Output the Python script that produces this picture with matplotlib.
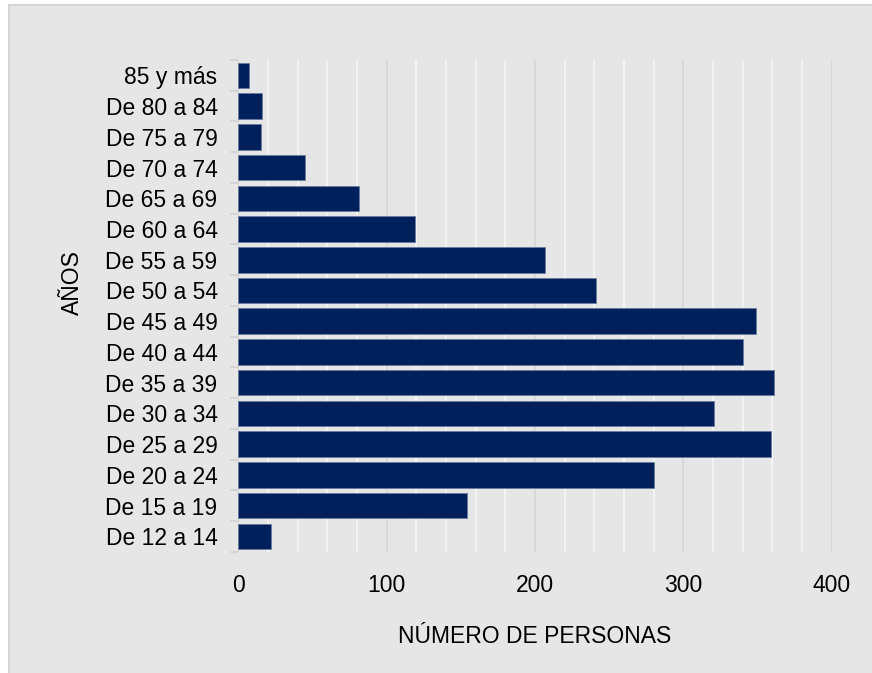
import matplotlib
matplotlib.use("Agg")
from matplotlib import pyplot as plt
from matplotlib.patches import Rectangle
from matplotlib.ticker import MultipleLocator, FixedLocator

plt.rcParams['font.family'] = ['Liberation Sans', 'DejaVu Sans']

# age groups, bottom to top
grupos = ["De 12 a 14", "De 15 a 19", "De 20 a 24", "De 25 a 29", "De 30 a 34",
          "De 35 a 39", "De 40 a 44", "De 45 a 49", "De 50 a 54", "De 55 a 59",
          "De 60 a 64", "De 65 a 69", "De 70 a 74", "De 75 a 79", "De 80 a 84",
          "85 y más"]
personas = [22, 154, 280, 359, 321, 361, 340, 349, 241, 207,
            119, 81, 45, 15, 16, 7]

W, H = 872, 673
fig = plt.figure(figsize=(W / 100, H / 100), dpi=100)
fig.patch.set_facecolor("white")

# grey chart area with thin border (white margin only left / top)
bg = Rectangle((9 / W, -0.01), 1.01, 1.01 - 5 / H, transform=fig.transFigure,
               facecolor="#e6e6e6", edgecolor="#d6d6d6", linewidth=1.5, zorder=-10)
fig.patches.append(bg)

left, right = 238.4 / W, 831.6 / W
bottom, top = 1 - 551.7 / H, 1 - 60 / H
ax = fig.add_axes([left, bottom, right - left, top - bottom])
ax.set_facecolor("none")

pos = list(range(len(grupos)))
ax.barh(pos, personas, height=0.83, color="#00205b", edgecolor="#6b7ba0",
        linewidth=0.6, zorder=3)

ax.set_xlim(0, 400)
ax.set_ylim(-0.5, len(grupos) - 0.5)

ax.xaxis.set_major_locator(MultipleLocator(100))
ax.xaxis.set_minor_locator(MultipleLocator(20))
ax.grid(axis="x", which="minor", color="#f3f3f3", linewidth=1.5, zorder=1)
ax.grid(axis="x", which="major", color="#d8d8d8", linewidth=1.5, zorder=2)

ax.set_yticks(pos)
ax.set_yticklabels(grupos)
ax.yaxis.set_minor_locator(FixedLocator([p - 0.5 for p in range(len(grupos) + 1)]))

for s in ax.spines.values():
    s.set_visible(False)

ax.tick_params(axis="x", which="both", length=0, labelsize=16.5, pad=16)
ax.tick_params(axis="y", which="major", length=0, labelsize=16.5, pad=15)
ax.tick_params(axis="y", which="minor", length=6, width=1.5, color="#d4d4d4")

ax.set_xlabel("NÚMERO DE PERSONAS", fontsize=16.5, labelpad=20)
fig.text(72 / W, 1 - 283 / H, "AÑOS", rotation=90, fontsize=16.5,
         ha="center", va="center")

plt.savefig("out.png", dpi=100, facecolor=fig.get_facecolor())
